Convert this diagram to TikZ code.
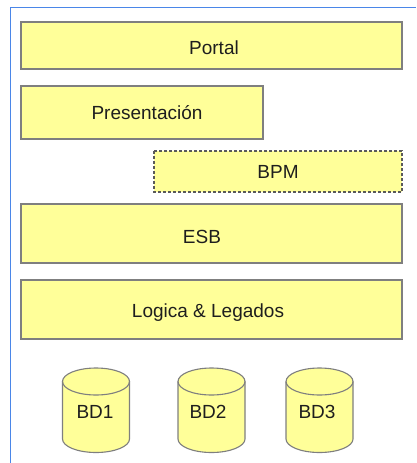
\documentclass[tikz,border=0pt]{standalone}
\usepackage{fontspec}
\setmainfont{Liberation Sans}
\definecolor{layerfill}{HTML}{FFFF99}
\definecolor{layerline}{HTML}{7F7F7F}
\definecolor{dashcol}{HTML}{5A5A5A}
\definecolor{textcol}{HTML}{1E1E1E}
\definecolor{framecol}{HTML}{4A86E8}
\tikzset{
  layer/.style={draw=layerline, fill=layerfill, line width=1.4pt},
  bpmlayer/.style={layer, draw=dashcol, dash pattern=on 3pt off 2pt, line width=1.3pt},
  lbl/.style={font=\fontsize{19}{21}\selectfont, text=textcol, inner sep=0pt},
  dbline/.style={draw=layerline, line width=1.1pt},
  % database cylinder: top ellipse centre at the pic origin, 57.5pt tall body
  pics/dbcyl/.style={code={
    \path[dbline, fill=layerfill] (-33.5pt,0pt) -- (-33.5pt,-57.5pt)
      arc[start angle=180, end angle=360, x radius=33.5pt, y radius=13.5pt]
      -- (33.5pt,0pt)
      arc[start angle=0, end angle=180, x radius=33.5pt, y radius=13.5pt] -- cycle;
    \draw[dbline] (-33.5pt,0pt)
      arc[start angle=180, end angle=360, x radius=33.5pt, y radius=13.5pt];
  }}
}
\begin{document}
\begin{tikzpicture}[x=1pt,y=-1pt]
\useasboundingbox (0,0) rectangle (416,463);
% outer frame (top and left edges only)
\draw[framecol, line width=1.3pt] (10.5,463) -- (10.5,7.3) -- (416,7.3);
% layers
\draw[layer] (21,22) rectangle (402,69);
\node[lbl] (portal) at (214,48) {Portal};
\draw[layer] (21,86) rectangle (263,139);
\node[lbl] (pres) at (147,113) {Presentación};
\draw[bpmlayer] (154,151) rectangle (402,192);
\node[lbl] (bpm) at (278,172) {BPM};
\draw[layer] (21,204) rectangle (402,263);
\node[lbl] (esb) at (202,237) {ESB};
\draw[layer] (21,280) rectangle (402,339);
\node[lbl] (logica) at (208,313) {Logica \& Legados};
% databases
\pic at (96,381.5) {dbcyl};
\pic at (211.5,381.5) {dbcyl};
\pic at (319.5,381.5) {dbcyl};
\node[lbl] (bd1) at (95,412) {BD1};
\node[lbl] (bd2) at (208,412) {BD2};
\node[lbl] (bd3) at (317,412) {BD3};
\end{tikzpicture}
\end{document}
